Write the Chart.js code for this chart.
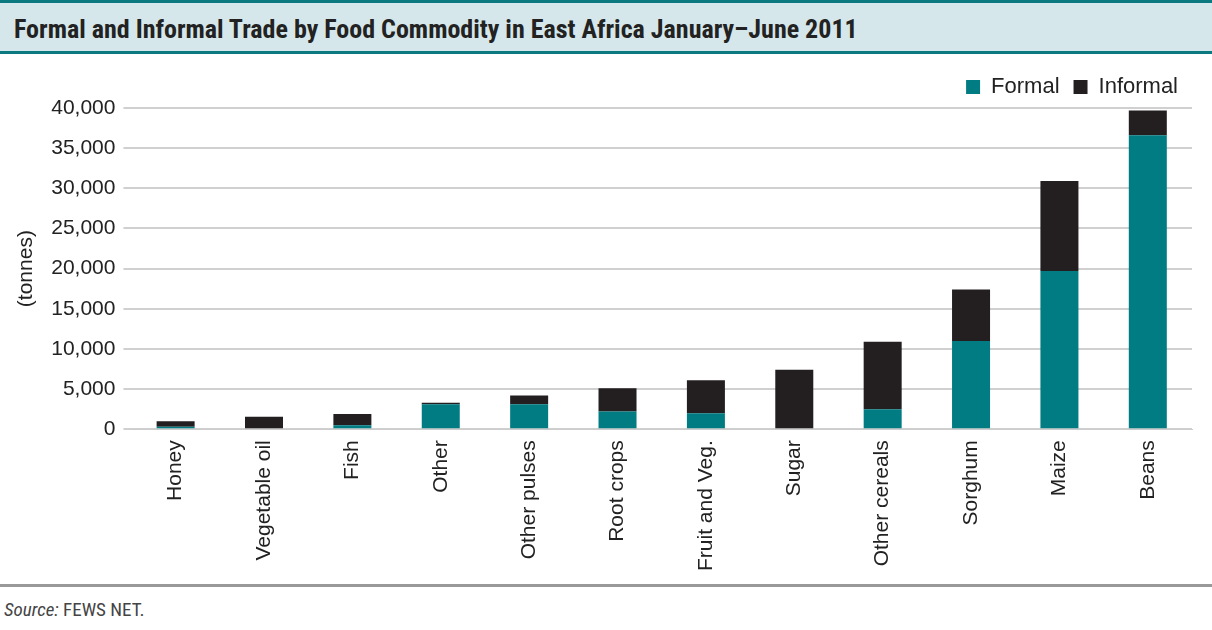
<!DOCTYPE html><html><head><meta charset="utf-8">
<script src="https://cdn.jsdelivr.net/npm/chart.js@4/dist/chart.umd.min.js"></script>
<style>
body{margin:0;width:1212px;height:630px;background:#fff;font-family:"Liberation Sans Narrow","Roboto Condensed","Liberation Sans",sans-serif;position:relative;overflow:hidden}
#title{position:absolute;left:0;top:0;width:1212px;height:54px;background:#d5e7ea;border-top:3px solid #0a7a80;border-bottom:3px solid #0a7a80;box-sizing:border-box;font-size:26px;font-weight:bold;color:#222;padding:11px 0 0 14px}
#wrap{position:absolute;left:0;top:62px;width:1212px;height:512px}
#foot{position:absolute;left:0;top:584px;width:1212px;border-top:3px solid #999}
#src{position:absolute;left:4px;top:598px;font-size:19px;color:#444}
</style></head><body>
<div id="title">Formal and Informal Trade by Food Commodity in East Africa January–June 2011</div>
<div id="wrap"><canvas id="c"></canvas></div>
<div id="foot"></div>
<div id="src"><i>Source:</i> FEWS NET.</div>
<script>
const categories=["Honey","Vegetable oil","Fish","Other","Other pulses","Root crops","Fruit and Veg.","Sugar","Other cereals","Sorghum","Maize","Beans"];
const formal=[300,0,500,3100,3100,2200,2000,0,2500,11000,19700,36600];
const informal=[700,1550,1400,200,1100,2900,4100,7400,8400,6400,11200,3100];
const yTicks=[0,5000,10000,15000,20000,25000,30000,35000,40000];
const f="'Liberation Sans Narrow','Liberation Sans',sans-serif";
new Chart(document.getElementById('c'),{type:'bar',
data:{labels:categories,datasets:[
{label:'Formal',data:formal,backgroundColor:'#007c82',barPercentage:0.43,categoryPercentage:1},
{label:'Informal',data:informal,backgroundColor:'#231f20',barPercentage:0.43,categoryPercentage:1}]},
options:{responsive:true,maintainAspectRatio:false,animation:false,
layout:{padding:{left:10,right:20,top:0,bottom:0}},
plugins:{legend:{position:'top',align:'end',labels:{boxWidth:14,boxHeight:14,font:{family:f,size:22},color:'#222',padding:14}},tooltip:{enabled:false}},
scales:{x:{stacked:true,grid:{display:false},border:{color:'#ccc'},ticks:{maxRotation:90,minRotation:90,font:{family:f,size:21},color:'#222'}},
y:{stacked:true,min:0,max:40000,afterBuildTicks:a=>{a.ticks=yTicks.map(v=>({value:v}))},grid:{color:'#d0d0d0',lineWidth:2},border:{display:false},
ticks:{font:{family:f,size:21},color:'#222',padding:8,callback:v=>v.toLocaleString('en-US')},
title:{display:true,text:'(tonnes)',font:{family:f,size:21},color:'#222'}}}}});
</script></body></html>
